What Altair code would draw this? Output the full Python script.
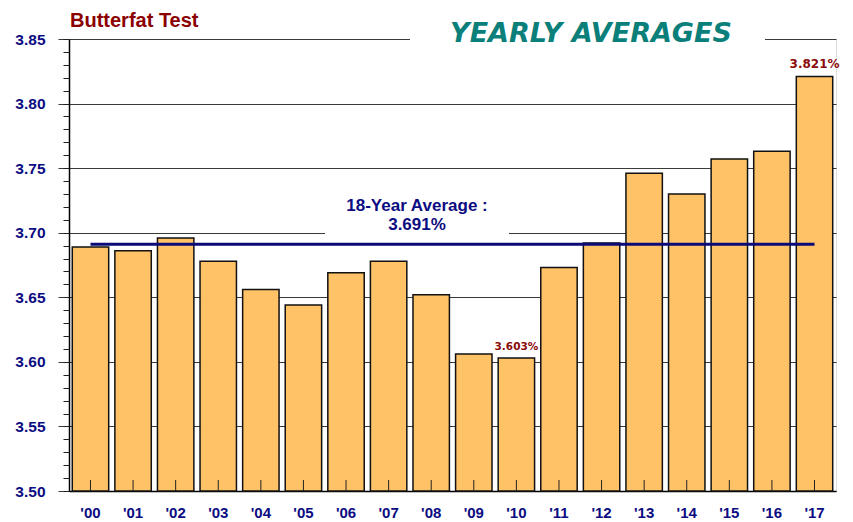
import altair as alt
import pandas as pd

years = ["'00", "'01", "'02", "'03", "'04", "'05", "'06", "'07", "'08",
         "'09", "'10", "'11", "'12", "'13", "'14", "'15", "'16", "'17"]
values = [3.689, 3.686, 3.696, 3.678, 3.656, 3.644, 3.669, 3.678, 3.652,
          3.606, 3.603, 3.673, 3.692, 3.746, 3.730, 3.757, 3.763, 3.821]
average = 3.691
major_ticks = [3.50, 3.55, 3.60, 3.65, 3.70, 3.75, 3.80, 3.85]
minor_ticks = [round(3.50 + 0.01 * i, 2) for i in range(36)]
callouts = {"'10": "3.603%", "'17": "3.821%"}

df = pd.DataFrame({"year": years, "value": values})
df["avg"] = average
df["base"] = 3.50
df["tick_top"] = 3.5085

NAVY = "#0C0C82"
DARKRED = "#8B0A0A"
FONT = "Liberation Sans"

xscale = alt.Scale(domain=years, paddingInner=0.145, paddingOuter=0.077)
yscale = alt.Scale(domain=[3.50, 3.85], zero=False, nice=False)

X = alt.X("year:N", sort=years, scale=xscale, title=None,
          axis=alt.Axis(labelAngle=0, ticks=False, labelPadding=14,
                        labelFont=FONT, labelFontSize=15, labelFontWeight="bold",
                        labelColor=NAVY, domainColor="#000000", domainWidth=1.5,
                        grid=False))

base = alt.Chart(df)

bars = base.mark_bar(fill="#FFC266", stroke="#111111", strokeWidth=1.5).encode(
    x=X,
    y=alt.Y("value:Q", scale=yscale, title=None,
            axis=alt.Axis(values=major_ticks, format=".2f", grid=True,
                          gridColor="#3a3a3a", gridWidth=1, tickSize=11,
                          tickColor="#3a3a3a", labelPadding=13,
                          labelFont=FONT, labelFontSize=15.5, labelFontWeight="bold",
                          labelColor=NAVY, domainColor="#000000", domainWidth=1.5)),
    y2=alt.Y2("base:Q"),
)

minor = base.mark_point(opacity=0).encode(
    x=X,
    y=alt.Y("value:Q", scale=yscale, title=None,
            axis=alt.Axis(values=minor_ticks, labels=False, grid=False, domain=False,
                          tickSize=6, tickColor="#222222", orient="left")),
)

inner_ticks = base.mark_rule(color="#222222", strokeWidth=1).encode(
    x=X,
    y=alt.Y("base:Q", scale=yscale, axis=None),
    y2="tick_top:Q",
)

avg_line = base.mark_line(color="#0A0A78", strokeWidth=3).encode(
    x=X,
    y=alt.Y("avg:Q", scale=yscale, axis=None),
)

lab = df[df["year"].isin(callouts.keys())].copy()
lab["label"] = lab["year"].map(callouts)

label17 = alt.Chart(lab[lab["year"] == "'17"]).mark_text(
    font="DejaVu Sans", fontWeight="bold", fontSize=12, color=DARKRED,
    baseline="bottom", dy=-5).encode(
    x=X, y=alt.Y("value:Q", scale=yscale, axis=None), text="label:N")

label10 = alt.Chart(lab[lab["year"] == "'10"]).mark_text(
    font="DejaVu Sans", fontWeight="bold", fontSize=10.5, color=DARKRED,
    baseline="bottom", dy=-6).encode(
    x=X, y=alt.Y("value:Q", scale=yscale, axis=None), text="label:N")

one = pd.DataFrame({"a": [0]})

mask_title = alt.Chart(one).mark_rect(fill="white").encode(
    x=alt.value(341), x2=alt.value(696), y=alt.value(-14), y2=alt.value(8))
mask_avg = alt.Chart(one).mark_rect(fill="white").encode(
    x=alt.value(256), x2=alt.value(440), y=alt.value(150), y2=alt.value(199))

title_left = alt.Chart(one).mark_text(
    text="Butterfat Test", font=FONT, fontWeight="bold", fontSize=20,
    color="#8B0000", align="left", baseline="alphabetic").encode(
    x=alt.value(1), y=alt.value(-12))

title_right = alt.Chart(one).mark_text(
    text="YEARLY  AVERAGES", font="DejaVu Sans", fontWeight="bold",
    fontStyle="italic", fontSize=27, color="#0B7F7A", align="center",
    baseline="middle").encode(x=alt.value(522), y=alt.value(-5))

avg_text1 = alt.Chart(one).mark_text(
    text="18-Year Average :", font=FONT, fontWeight="bold", fontSize=17,
    color=NAVY, align="center", baseline="middle").encode(
    x=alt.value(348), y=alt.value(167))
avg_text2 = alt.Chart(one).mark_text(
    text="3.691%", font=FONT, fontWeight="bold", fontSize=17,
    color=NAVY, align="center", baseline="middle").encode(
    x=alt.value(348), y=alt.value(186))

chart = alt.layer(
    bars, minor, inner_ticks, mask_avg, avg_line, label17, label10,
    mask_title, title_left, title_right, avg_text1, avg_text2,
).resolve_axis(y="independent").properties(
    width=767, height=452,
    autosize=alt.AutoSizeParams(type="none"),
    padding={"left": 61, "top": 31, "right": 9, "bottom": 30},
).configure_view(strokeWidth=0).configure(background="white")

chart.save("out.html", embed_options={"renderer": "svg", "actions": False})
